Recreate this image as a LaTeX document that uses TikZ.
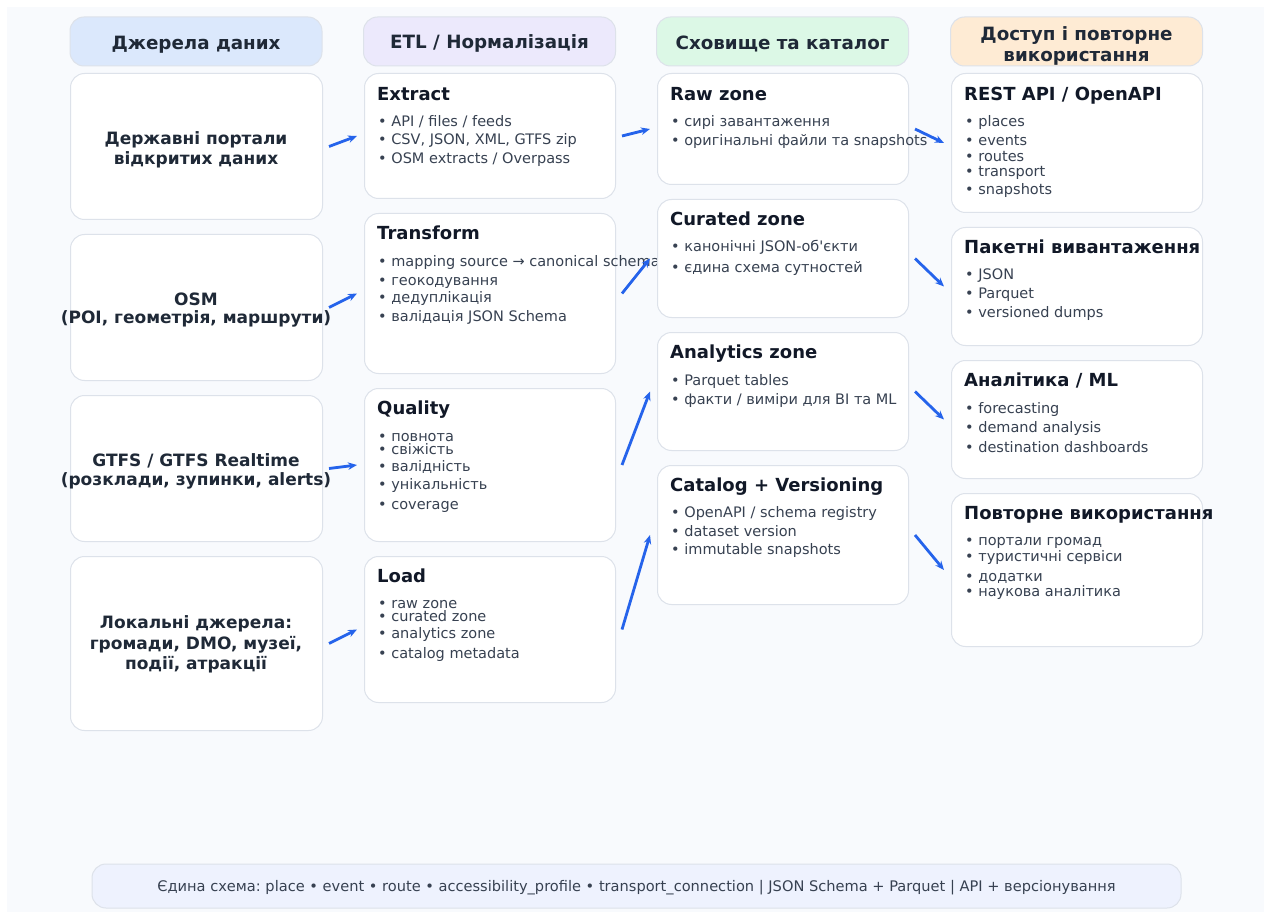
\documentclass[tikz,border=0pt]{standalone}
\usepackage{fontspec}
\setmainfont[Ligatures=TeXOff]{DejaVu Sans}
\usetikzlibrary{positioning,arrows.meta}
\definecolor{pagebg}{HTML}{F8FAFD}
\definecolor{cardline}{HTML}{DDE2EA}
\definecolor{headblue}{HTML}{DBE8FC}
\definecolor{headlila}{HTML}{ECE9FC}
\definecolor{headgreen}{HTML}{DCF8E6}
\definecolor{headorange}{HTML}{FEEBD4}
\definecolor{footfill}{HTML}{EEF2FE}
\definecolor{inkdark}{HTML}{111827}
\definecolor{inkmid}{HTML}{1F2937}
\definecolor{inkgray}{HTML}{374151}
\definecolor{flowblue}{HTML}{2563EB}
\frenchspacing
\tikzset{
  card/.style={draw=cardline,fill=white,line width=1pt,rounded corners=14pt,
    anchor=north west,inner sep=0},
  head/.style={draw=cardline,line width=1pt,rounded corners=14pt,inner sep=0,
    minimum width=252pt,minimum height=49pt},
  headtext/.style={anchor=mid,inner sep=0,yshift=-3pt,
    font=\fontsize{18.3}{22}\selectfont\bfseries,text=inkmid},
  srctext/.style={anchor=mid,inner sep=0,yshift=-3pt,
    font=\fontsize{17}{20}\selectfont\bfseries,text=inkmid},
  cardtitle/.style={anchor=mid west,inner sep=0,yshift=-4pt,
    font=\fontsize{18}{21}\selectfont\bfseries,text=inkdark},
  item/.style={anchor=mid west,inner sep=0,yshift=-3pt,
    font=\fontsize{14.5}{17}\selectfont,text=inkgray},
  flow/.style={draw=flowblue,line width=2.8pt,-{Stealth[length=9pt,width=7.5pt]}}
}
\begin{document}
\begin{tikzpicture}[x=1pt,y=-1pt]
  \useasboundingbox (0,0) rectangle (1264,912);
  \fill[white] (0,0) rectangle (1264,912);
  \fill[pagebg] (7,7) rectangle (1264,912);

  % column headers
  \node[head,fill=headblue] (h-src) at (196,41.5) {};
  \node[head,fill=headlila] (h-etl) at (489.5,41.5) {};
  \node[head,fill=headgreen] (h-store) at (782.5,41.5) {};
  \node[head,fill=headorange] (h-use) at (1076.5,41.5) {};
  \foreach \x/\y/\t [count=\i] in {196/44/Джерела даних,489.5/43/{ETL / Нормалізація},
      782.5/44/Сховище та каталог,1076.5/35/Доступ і повторне,1076.5/56/використання} {
    \node[headtext] (h-t\i) at (\x,\y) {\t};
  }

  % sources
  \node[card,minimum width=252pt,minimum height=146pt] (src1) at (70,73) {};
  \node[card,minimum width=252pt,minimum height=146pt] (src2) at (70,234) {};
  \node[card,minimum width=252pt,minimum height=146pt] (src3) at (70,395) {};
  \node[card,minimum width=252pt,minimum height=174pt] (src4) at (70,556) {};
  \foreach \y/\t [count=\i] in {139/Державні портали,159/відкритих даних,
      300/OSM,318/{(POI, геометрія, маршрути)},
      461/{GTFS / GTFS Realtime},480/{(розклади, зупинки, alerts)},
      623/Локальні джерела:,644/{громади, DMO, музеї,},664/{події, атракції}} {
    \node[srctext] (src-t\i) at (196,\y) {\t};
  }

  % etl steps
  \node[card,minimum width=251pt,minimum height=125pt] (ext) at (364,73) {};
  \node[card,minimum width=251pt,minimum height=160pt] (trf) at (364,213) {};
  \node[card,minimum width=251pt,minimum height=153pt] (qual) at (364,388) {};
  \node[card,minimum width=251pt,minimum height=146pt] (load) at (364,556) {};
  \foreach \y/\t [count=\i] in {94/Extract,233/Transform,408/Quality,576/Load} {
    \node[cardtitle] (etl-t\i) at (377,\y) {\t};
  }
  \foreach \y/\t [count=\i] in {121/{API / files / feeds},139/{CSV, JSON, XML, GTFS zip},
      158/{OSM extracts / Overpass},
      261/{mapping source → canonical schema},280/геокодування,297/дедуплікація,
      316/{валідація JSON Schema},
      436/повнота,449/свіжість,466/валідність,484/унікальність,504/coverage,
      603/raw zone,616/curated zone,633/analytics zone,653/catalog metadata} {
    \node[item] (etl-i\i) at (378,\y) {• \t};
  }

  % storage zones
  \node[card,minimum width=251pt,minimum height=111pt] (raw) at (657,73) {};
  \node[card,minimum width=251pt,minimum height=118pt] (cur) at (657,199) {};
  \node[card,minimum width=251pt,minimum height=118pt] (ana) at (657,332) {};
  \node[card,minimum width=251pt,minimum height=139pt] (cat) at (657,465) {};
  \foreach \y/\t [count=\i] in {94/Raw zone,219/Curated zone,352/Analytics zone,
      485/Catalog + Versioning} {
    \node[cardtitle] (st-t\i) at (670,\y) {\t};
  }
  \foreach \y/\t [count=\i] in {121/сирі завантаження,140/оригінальні файли та snapshots,
      246/{канонічні JSON-об'єкти},267/єдина схема сутностей,
      380/Parquet tables,399/{факти / виміри для BI та ML},
      512/{OpenAPI / schema registry},531/dataset version,549/immutable snapshots} {
    \node[item] (st-i\i) at (671,\y) {• \t};
  }

  % access and reuse
  \node[card,minimum width=251pt,minimum height=139pt] (rest) at (951,73) {};
  \node[card,minimum width=251pt,minimum height=118pt] (dump) at (951,227) {};
  \node[card,minimum width=251pt,minimum height=118pt] (ml) at (951,360) {};
  \node[card,minimum width=251pt,minimum height=153pt] (reuse) at (951,493) {};
  \foreach \y/\t [count=\i] in {94/{REST API / OpenAPI},247/Пакетні вивантаження,
      380/{Аналітика / ML},513/Повторне використання} {
    \node[cardtitle] (use-t\i) at (964,\y) {\t};
  }
  \foreach \y/\t [count=\i] in {121/places,140/events,156/routes,171/transport,189/snapshots,
      274/JSON,293/Parquet,312/versioned dumps,
      408/forecasting,427/demand analysis,447/destination dashboards,
      540/портали громад,556/туристичні сервіси,576/додатки,591/наукова аналітика} {
    \node[item] (use-i\i) at (965,\y) {• \t};
  }

  % connectors
  \foreach \a/\b in {src1/ext,src2/trf,src3/qual,src4/load,
      ext/raw,trf/cur,qual/ana,load/cat,
      raw/rest,cur/dump,ana/ml,cat/reuse} {
    \draw[flow] ([xshift=6pt]\a.east) -- ([xshift=-7pt]\b.west);
  }

  % footer
  \node[draw=cardline,fill=footfill,line width=1pt,rounded corners=14pt,
    minimum width=1089pt,minimum height=44pt] (foot) at (636.5,886) {};
  \node[anchor=mid,inner sep=0,yshift=-3pt,text=inkgray,font=\fontsize{14.6}{17}\selectfont]
    (foot-t) at (636.5,886)
    {Єдина схема: place • event • route • accessibility\_profile • transport\_connection | JSON Schema + Parquet | API + версіонування};
\end{tikzpicture}
\end{document}
